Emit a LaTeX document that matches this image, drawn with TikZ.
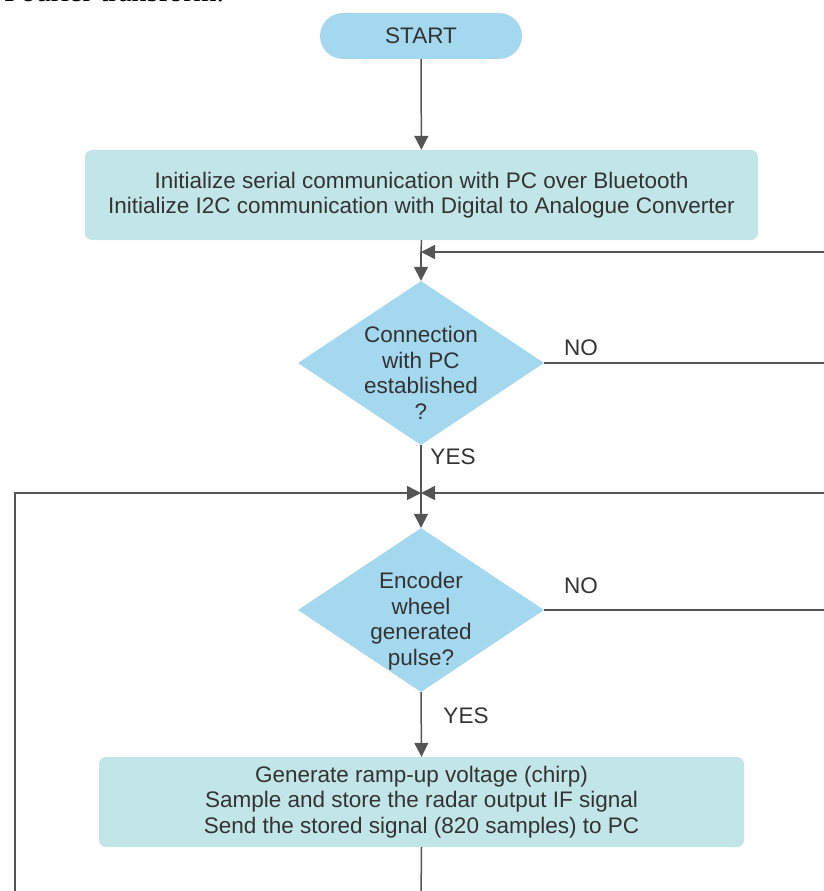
\documentclass[tikz,border=0pt]{standalone}
\usepackage{fontspec}
\setmainfont{Liberation Sans}
\newfontfamily\serifpage{Liberation Serif}
\usetikzlibrary{shapes.geometric,arrows.meta}
\definecolor{pill}{HTML}{A3D8EE}
\definecolor{boxc}{HTML}{C2E6E8}
\definecolor{txt}{HTML}{333333}
\definecolor{ln}{HTML}{555555}
\begin{document}
\begin{tikzpicture}[x=1pt,y=-1pt,
  every node/.style={text=txt, font=\fontsize{22.5}{25.5}\selectfont},
  terminal/.style={fill=pill, rounded corners=23pt, minimum width=202pt, minimum height=46pt, inner sep=0pt},
  procbox/.style={fill=boxc, rounded corners=7pt, align=center, inner sep=0pt, minimum height=90pt},
  decision/.style={diamond, fill=pill, inner sep=0pt, minimum width=246pt, minimum height=164pt},
  dtext/.style={align=center, inner sep=0pt},
  lab/.style={inner sep=0pt},
  conn/.style={draw=ln, line width=1.5pt},
  arr/.style={conn, -{Triangle[length=14pt,width=14pt]}},
]
\useasboundingbox (0,0) rectangle (824,891);
\node[anchor=base west, font=\serifpage\fontsize{30}{30}\selectfont, text=black, inner sep=0pt] (hdr) at (4,1.5) {Fourier transform.};

\node[terminal] (start) at (421,36) {START};
\node[procbox, minimum width=673pt] (init) at (421.5,195) {Initialize serial communication with PC over Bluetooth\\Initialize I2C communication with Digital to Analogue Converter};
\node[decision] (d1) at (421,363) {};
\node[dtext] (d1t) at (421,373) {Connection\\with PC\\established\\?};
\node[decision] (d2) at (421,610) {};
\node[dtext] (d2t) at (421,621) {Encoder\\wheel\\generated\\pulse?};
\node[procbox, minimum width=645pt] (proc) at (421.5,802) {Generate ramp-up voltage (chirp)\\Sample and store the radar output IF signal\\Send the stored signal (820 samples) to PC};

\node[lab] (no1) at (581,348) {NO};
\node[lab] (no2) at (581,586) {NO};
\node[lab] (yes1) at (453,457) {YES};
\node[lab] (yes2) at (466,716) {YES};

\coordinate (j1) at (421,252);
\coordinate (rin1) at (830,252);
\coordinate (nout1) at (830,363);
\coordinate (j2) at (421,493);
\coordinate (lin) at (15,493);
\coordinate (lbot) at (15,900);
\coordinate (rin2) at (830,493);
\coordinate (nout2) at (830,610);
\coordinate (bot) at (421,900);

\draw[arr] (start) -- (init);
\draw[conn] (init.south) -- (j1);
\draw[arr] (j1) -- (d1.north);
\draw[arr] (rin1) -- (j1);
\draw[conn] (d1.east) -- (nout1);
\draw[conn] (d1.south) -- (j2);
\draw[arr] (j2) -- (d2.north);
\draw[arr] (lbot) -- (lin) -- (j2);
\draw[arr] (rin2) -- (j2);
\draw[conn] (d2.east) -- (nout2);
\draw[arr] (d2.south) -- (proc.north);
\draw[conn] (proc.south) -- (bot);
\end{tikzpicture}
\end{document}
